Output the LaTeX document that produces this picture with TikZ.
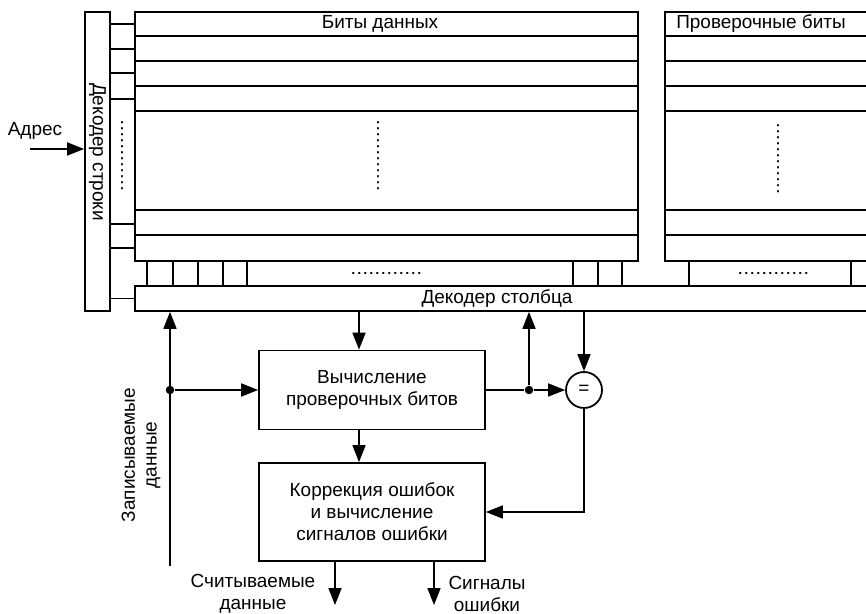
\documentclass[tikz,border=0pt]{standalone}
\usepackage{fontspec}
\setmainfont{Liberation Sans}
\usetikzlibrary{arrows.meta}
\usetikzlibrary{positioning}

\tikzset{
  blk/.style={draw, line width=1pt, inner sep=0pt},
  wire/.style={line width=1pt},
  arr/.style={line width=1pt, -{Triangle[length=0.34cm,width=0.26cm]}},
  dots/.style={line width=1.2pt, dash pattern=on 0.01cm off 0.11cm, line cap=round},
  junc/.style={circle, fill, inner sep=0pt, minimum size=0.17cm},
  txt/.style={font=\fontsize{10.8}{12.5}\selectfont, inner sep=0pt, align=center}
}

\begin{document}
\begin{tikzpicture}[x=0.02cm, y=-0.02cm]
  \clip (0,0) rectangle (866,614);
  % decoders
  \node[blk, minimum width=0.5cm, minimum height=5.98cm] (rowdec) at (97.5,161.5) {};
  \node[txt, rotate=-90] (rowtxt) at (97.5,152) {Декодер строки};
  \node[blk, minimum width=14.9cm, minimum height=0.5cm] (coldec) at (507.5,298.5) {};
  \node[txt] (coltxt) at (497,299) {Декодер столбца};

  % memory arrays
  \draw[wire] (135,261) rectangle (638,12);
  \draw[wire] (880,12) -- (665,12) -- (665,261) -- (880,261);
  \foreach \y in {36,61,86,111,210,235}
    \draw[wire] (135,\y) -- (638,\y) (665,\y) -- (880,\y);
  \foreach \x in {147,173,198,223,247,573,598,622,689,851}
    \draw[wire] (\x,261) -- (\x,286);
  \foreach \y in {24,49,73,99,224,248}
    \draw[wire] (110,\y) -- (135,\y);
  \draw[wire] (rowdec.east |- coldec.west) -- (coldec.west);
  \draw[dots] (122,122) -- (122,192);
  \draw[dots] (378,122) -- (378,192) (778,125) -- (778,195);
  \draw[dots] (353,273) -- (424,273) (740,273) -- (810,273);
  \node[txt] (datatxt) at (380,24) {Биты данных};
  \node[txt] (chktxt) at (761,24) {Проверочные биты};

  \node[txt] (addrtxt) at (35,131) {Адрес};
  \coordinate (addr) at (30,149);
  \draw[arr] (addr) -- (addr -| rowdec.west);

  % check logic
  \node[blk, txt, minimum width=4.52cm, minimum height=1.58cm] (calc) at (372,390) {Вычисление\\проверочных битов};
  \node[blk, txt, minimum width=4.52cm, minimum height=1.96cm] (corr) at (372,512) {Коррекция ошибок\\и вычисление\\сигналов ошибки};
  \node[blk, txt, circle, minimum size=0.72cm] (cmp) at (584,390) {=};

  \coordinate (bus) at (359,0);
  \coordinate (win) at (170,566);
  \coordinate (rd) at (335,605);
  \coordinate (err) at (434,605);
  \draw[arr] (coldec.south -| bus) -- (calc.north -| bus);
  \draw[arr] (calc.south -| bus) -- (corr.north -| bus);
  \draw[arr] (win) -- (win |- coldec.south);
  \node[junc] (j1) at (win |- calc.west) {};
  \draw[arr] (j1) -- (calc.west);
  \node[junc] (j2) at (529,390) {};
  \draw[wire] (calc.east) -- (j2);
  \draw[arr] (j2) -- (cmp.west);
  \draw[arr] (j2) -- (j2 |- coldec.south);
  \draw[arr] (coldec.south -| cmp.north) -- (cmp.north);
  \draw[arr] (cmp.south) -- (cmp.south |- corr.east) -- (corr.east);
  \draw[arr] (corr.south -| rd) -- (rd);
  \draw[arr] (corr.south -| err) -- (err);

  \node[txt] (rdtxt) at (253,594) {Считываемые\\данные};
  \node[txt] (errtxt) at (487,594) {Сигналы\\ошибки};
  \node[txt, rotate=90] (wrtxt) at (141,455) {Записываемые\\данные};
\end{tikzpicture}
\end{document}
